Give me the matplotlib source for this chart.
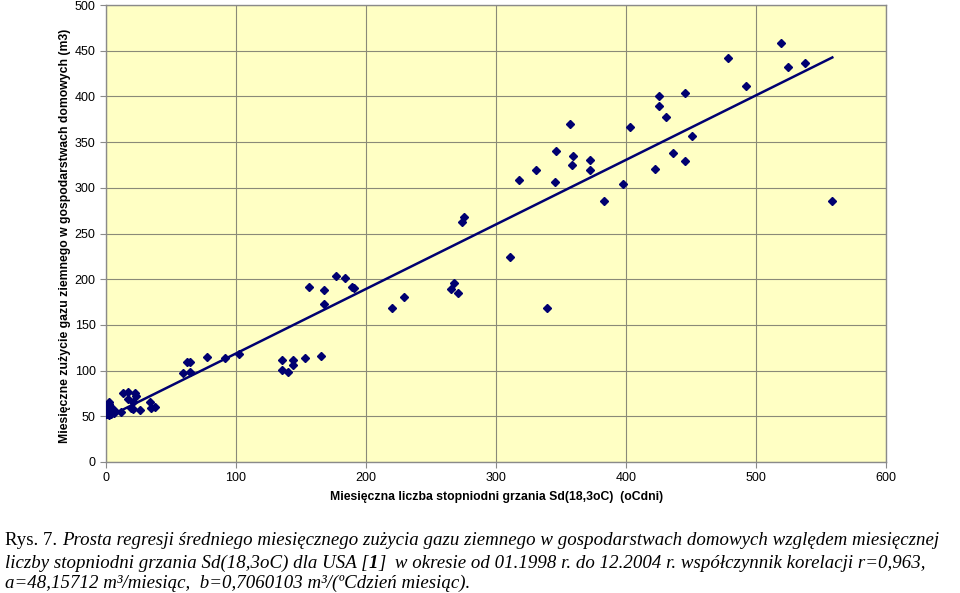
import numpy as np
import matplotlib
matplotlib.use('Agg')
import matplotlib.pyplot as plt

# stopniodni grzania (oCdni) i zuzycie gazu (m3) - odczyt z wykresu
sd = [519.5, 478.5, 524.4, 538, 492, 425, 445, 425.6, 431, 403,
      451, 436, 372, 372, 422, 445.6, 398, 383, 558.7, 357,
      318, 331, 345.6, 346, 359.5, 358.5, 274, 275, 311, 339,
      265, 268, 271, 220, 229.5, 156, 168, 168, 177, 184,
      189, 191, 165, 153, 144, 144, 139.7, 135.6, 135.6, 102.5,
      91.5, 77.5, 62, 64.5, 59.5, 64.5, 12.8, 17, 16.7, 22.3,
      22.8, 20.5, 19, 21, 26, 34, 34.4, 38, 11.3, 2.6,
      1.8, 3, 5.6, 7, 1, 2.5, 4.4, 0.5, 1, 3.5,
      6, 0.8, 2, 4]
gaz = [458, 442.4, 432.5, 437, 411.7, 400.8, 404, 389, 377.5, 366.5,
       357, 337.7, 330, 320, 320.6, 329, 304, 285.5, 285.6, 370,
       308, 319.5, 306, 340.6, 335, 325, 262.6, 268, 224, 169,
       189, 196, 185, 169, 180.5, 192, 188, 172.5, 204, 201,
       192, 190, 116.3, 114, 111.6, 106.5, 98.5, 100.7, 111.6, 118,
       113.4, 114.5, 109.4, 109, 97, 98, 75, 77, 69, 76,
       72.5, 65.3, 58.7, 57.6, 57.2, 66, 58.7, 59.8, 55, 66,
       60.5, 57, 57, 56, 53, 51.4, 55, 62, 58, 60,
       54, 56, 64, 52]

# wspolczynniki regresji z podpisu
a = 48.15712
b = 0.7060103

navy = '#000070'

fig = plt.figure(figsize=(9.6, 5.93), dpi=100)
ax = fig.add_axes([106/960, 1-462/593, 780/960, 457/593])
ax.set_facecolor('#FFFFC4')

xl = np.array([min(sd), max(sd)])
ax.plot(xl, a + b*xl, color=navy, lw=1.8, zorder=3)
ax.plot(sd, gaz, 'D', color=navy, ms=4.5, ls='none', zorder=4)

ax.set_xlim(0, 600)
ax.set_ylim(0, 500)
ax.set_xticks(range(0, 601, 100))
ax.set_yticks(range(0, 501, 50))
ax.grid(True, color='#8A8A78', lw=0.8)
ax.set_axisbelow(True)
for s in ax.spines.values():
    s.set_color('#8A8A8A')
    s.set_linewidth(1.0)
ax.tick_params(colors='#8A8A8A', labelcolor='black', labelsize=9,
               length=4, width=0.8)
for lab in ax.get_xticklabels() + ax.get_yticklabels():
    lab.set_family('Liberation Sans')

fig.text(65/960, 1-236/593,
         'Miesięczne zużycie gazu ziemnego w gospodarstwach domowych (m3)',
         rotation=90, ha='center', va='center', fontsize=8.8,
         fontweight='bold', family='Liberation Sans')
fig.text(497/960, 1-497/593,
         'Miesięczna liczba stopniodni grzania Sd(18,3oC)  (oCdni)',
         ha='center', va='center', fontsize=8.8, fontweight='bold',
         family='Liberation Sans')

# podpis rysunku
fs = 13.6
kw = dict(fontsize=fs, family='Liberation Serif', va='bottom', ha='left')
t = fig.text(5/960, 1-549/593, 'Rys. 7. ', **kw)
ax.annotate('Prosta regresji średniego miesięcznego zużycia gazu ziemnego '
            'w gospodarstwach domowych względem miesięcznej',
            xy=(1, 0), xycoords=t, style='italic', annotation_clip=False, **kw)

t = fig.text(5/960, 1-572/593, 'liczby stopniodni grzania Sd(18,3oC) dla USA [',
             style='italic', **kw)
t = ax.annotate('1', xy=(1, 0), xycoords=t, style='italic', fontweight='bold',
                annotation_clip=False, **kw)
ax.annotate(']  w okresie od 01.1998 r. do 12.2004 r. współczynnik korelacji r=0,963,',
            xy=(1, 0), xycoords=t, style='italic', annotation_clip=False, **kw)

fig.text(5/960, 1-593/593 + 1/593,
         'a=48,15712 m³/miesiąc,  b=0,7060103 m³/(ºCdzień miesiąc).',
         style='italic', **kw)

fig.savefig('out.png', dpi=100)
